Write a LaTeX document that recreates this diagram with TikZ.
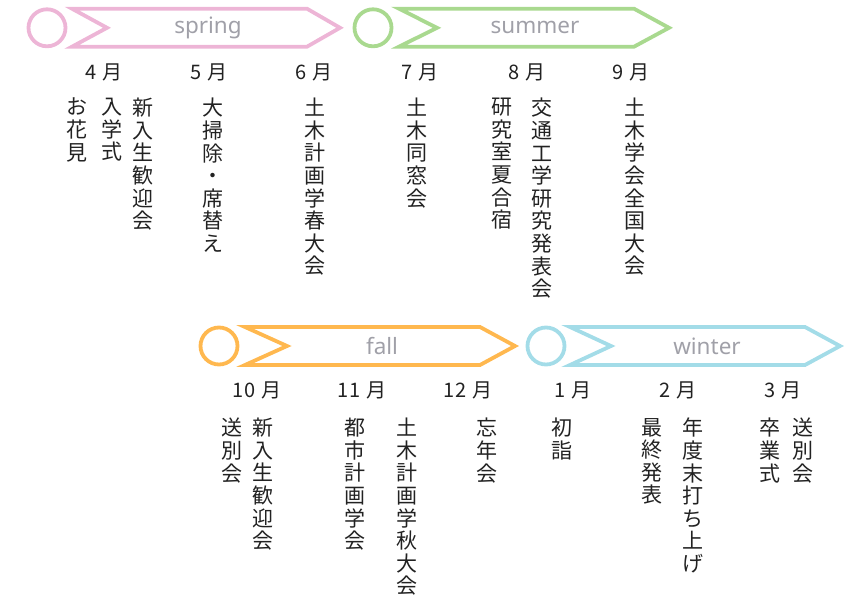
\documentclass[tikz,border=0pt]{standalone}
\usepackage{fontspec}
\newfontfamily\jp{Noto Sans CJK JP}
\newfontfamily\seasonfam{Noto Sans}
\definecolor{springc}{HTML}{EDB5D6}
\definecolor{summerc}{HTML}{A9D98F}
\definecolor{fallc}{HTML}{FFB84F}
\definecolor{winterc}{HTML}{A3DCE8}
\definecolor{seasongray}{HTML}{A0A0A8}
\definecolor{ink}{HTML}{222222}
\tikzset{
  band/.style={line width=3.8pt, line join=miter, miter limit=10},
  ring/.style={circle, line width=3.8pt, minimum size=37pt, inner sep=0},
  season/.style={font=\seasonfam\fontsize{22.5}{24}\selectfont, text=seasongray, inner sep=0},
  month/.style={font=\jp\fontsize{20}{20}\selectfont, text=ink, inner sep=0},
  vcol/.style={font=\jp\fontsize{21}{22.6}\selectfont, text=ink, inner sep=0, anchor=north, align=center},
}
% colour, mid y, top y, bottom y, left x, notch x, corner x, tip x
\newcommand{\seasonband}[8]{%
  \draw[band,draw=#1] (#5,#3) -- (#7,#3) -- (#8,#2) -- (#7,#4) -- (#5,#4) -- (#6,#2) -- cycle;}
\begin{document}
\begin{tikzpicture}[x=1pt,y=-1pt]
\useasboundingbox (0,0) rectangle (854,605);
% bands
\node[ring,draw=springc] (cspring) at (47,27.8) {};
\seasonband{springc}{27.8}{8.7}{46.7}{72}{107}{307}{340}
\node[season] (tspring) at (208,27.8) {spring};
\node[ring,draw=summerc] (csummer) at (373,27.8) {};
\seasonband{summerc}{27.8}{8.7}{46.7}{399}{437}{634}{669}
\node[season] (tsummer) at (535,27.8) {summer};
\node[ring,draw=fallc] (cfall) at (219,346) {};
\seasonband{fallc}{346}{327}{365}{245}{287}{480}{515}
\node[season] (tfall) at (382,346) {fall};
\node[ring,draw=winterc] (cwinter) at (546,346) {};
\seasonband{winterc}{346}{327}{365}{570}{611}{805}{840}
\node[season] (twinter) at (707,346) {winter};
% months
\node[month] (m4) at (104,72) {4\hspace{6pt}月};
\node[month] (m5) at (209,72) {5\hspace{6pt}月};
\node[month] (m6) at (314,72) {6\hspace{6pt}月};
\node[month] (m7) at (420,72) {7\hspace{6pt}月};
\node[month] (m8) at (527,72) {8\hspace{6pt}月};
\node[month] (m9) at (631,72) {9\hspace{6pt}月};
\node[month] (m10) at (257,390) {10\hspace{6pt}月};
\node[month] (m11) at (362,390) {11\hspace{6pt}月};
\node[month] (m12) at (468,390) {12\hspace{6pt}月};
\node[month] (m1) at (573,390) {1\hspace{6pt}月};
\node[month] (m2) at (678,390) {2\hspace{6pt}月};
\node[month] (m3) at (783,390) {3\hspace{6pt}月};
% events top
\node[vcol] (e4a) at (77,98) {お\\花\\見};
\node[vcol] (e4b) at (112,98) {入\\学\\式};
\node[vcol] (e4c) at (143,98) {新\\入\\生\\歓\\迎\\会};
\node[vcol] (e5a) at (213,98) {大\\掃\\除\\・\\席\\替\\え};
\node[vcol] (e6a) at (315,98) {土\\木\\計\\画\\学\\春\\大\\会};
\node[vcol] (e7a) at (417,98) {土\\木\\同\\窓\\会};
\node[vcol] (e8a) at (502,98) {研\\究\\室\\夏\\合\\宿};
\node[vcol] (e8b) at (542,98) {交\\通\\工\\学\\研\\究\\発\\表\\会};
\node[vcol] (e9a) at (635,98) {土\\木\\学\\会\\全\\国\\大\\会};
% events bottom
\node[vcol] (e10a) at (232,418) {送\\別\\会};
\node[vcol] (e10b) at (263,418) {新\\入\\生\\歓\\迎\\会};
\node[vcol] (e11a) at (355,418) {都\\市\\計\\画\\学\\会};
\node[vcol] (e11b) at (407,418) {土\\木\\計\\画\\学\\秋\\大\\会};
\node[vcol] (e12a) at (487,418) {忘\\年\\会};
\node[vcol] (e1a) at (562,418) {初\\詣};
\node[vcol] (e2a) at (652,418) {最\\終\\発\\表};
\node[vcol] (e2b) at (693,418) {年\\度\\末\\打\\ち\\上\\げ};
\node[vcol] (e3a) at (770,418) {卒\\業\\式};
\node[vcol] (e3b) at (803,418) {送\\別\\会};
\end{tikzpicture}
\end{document}
